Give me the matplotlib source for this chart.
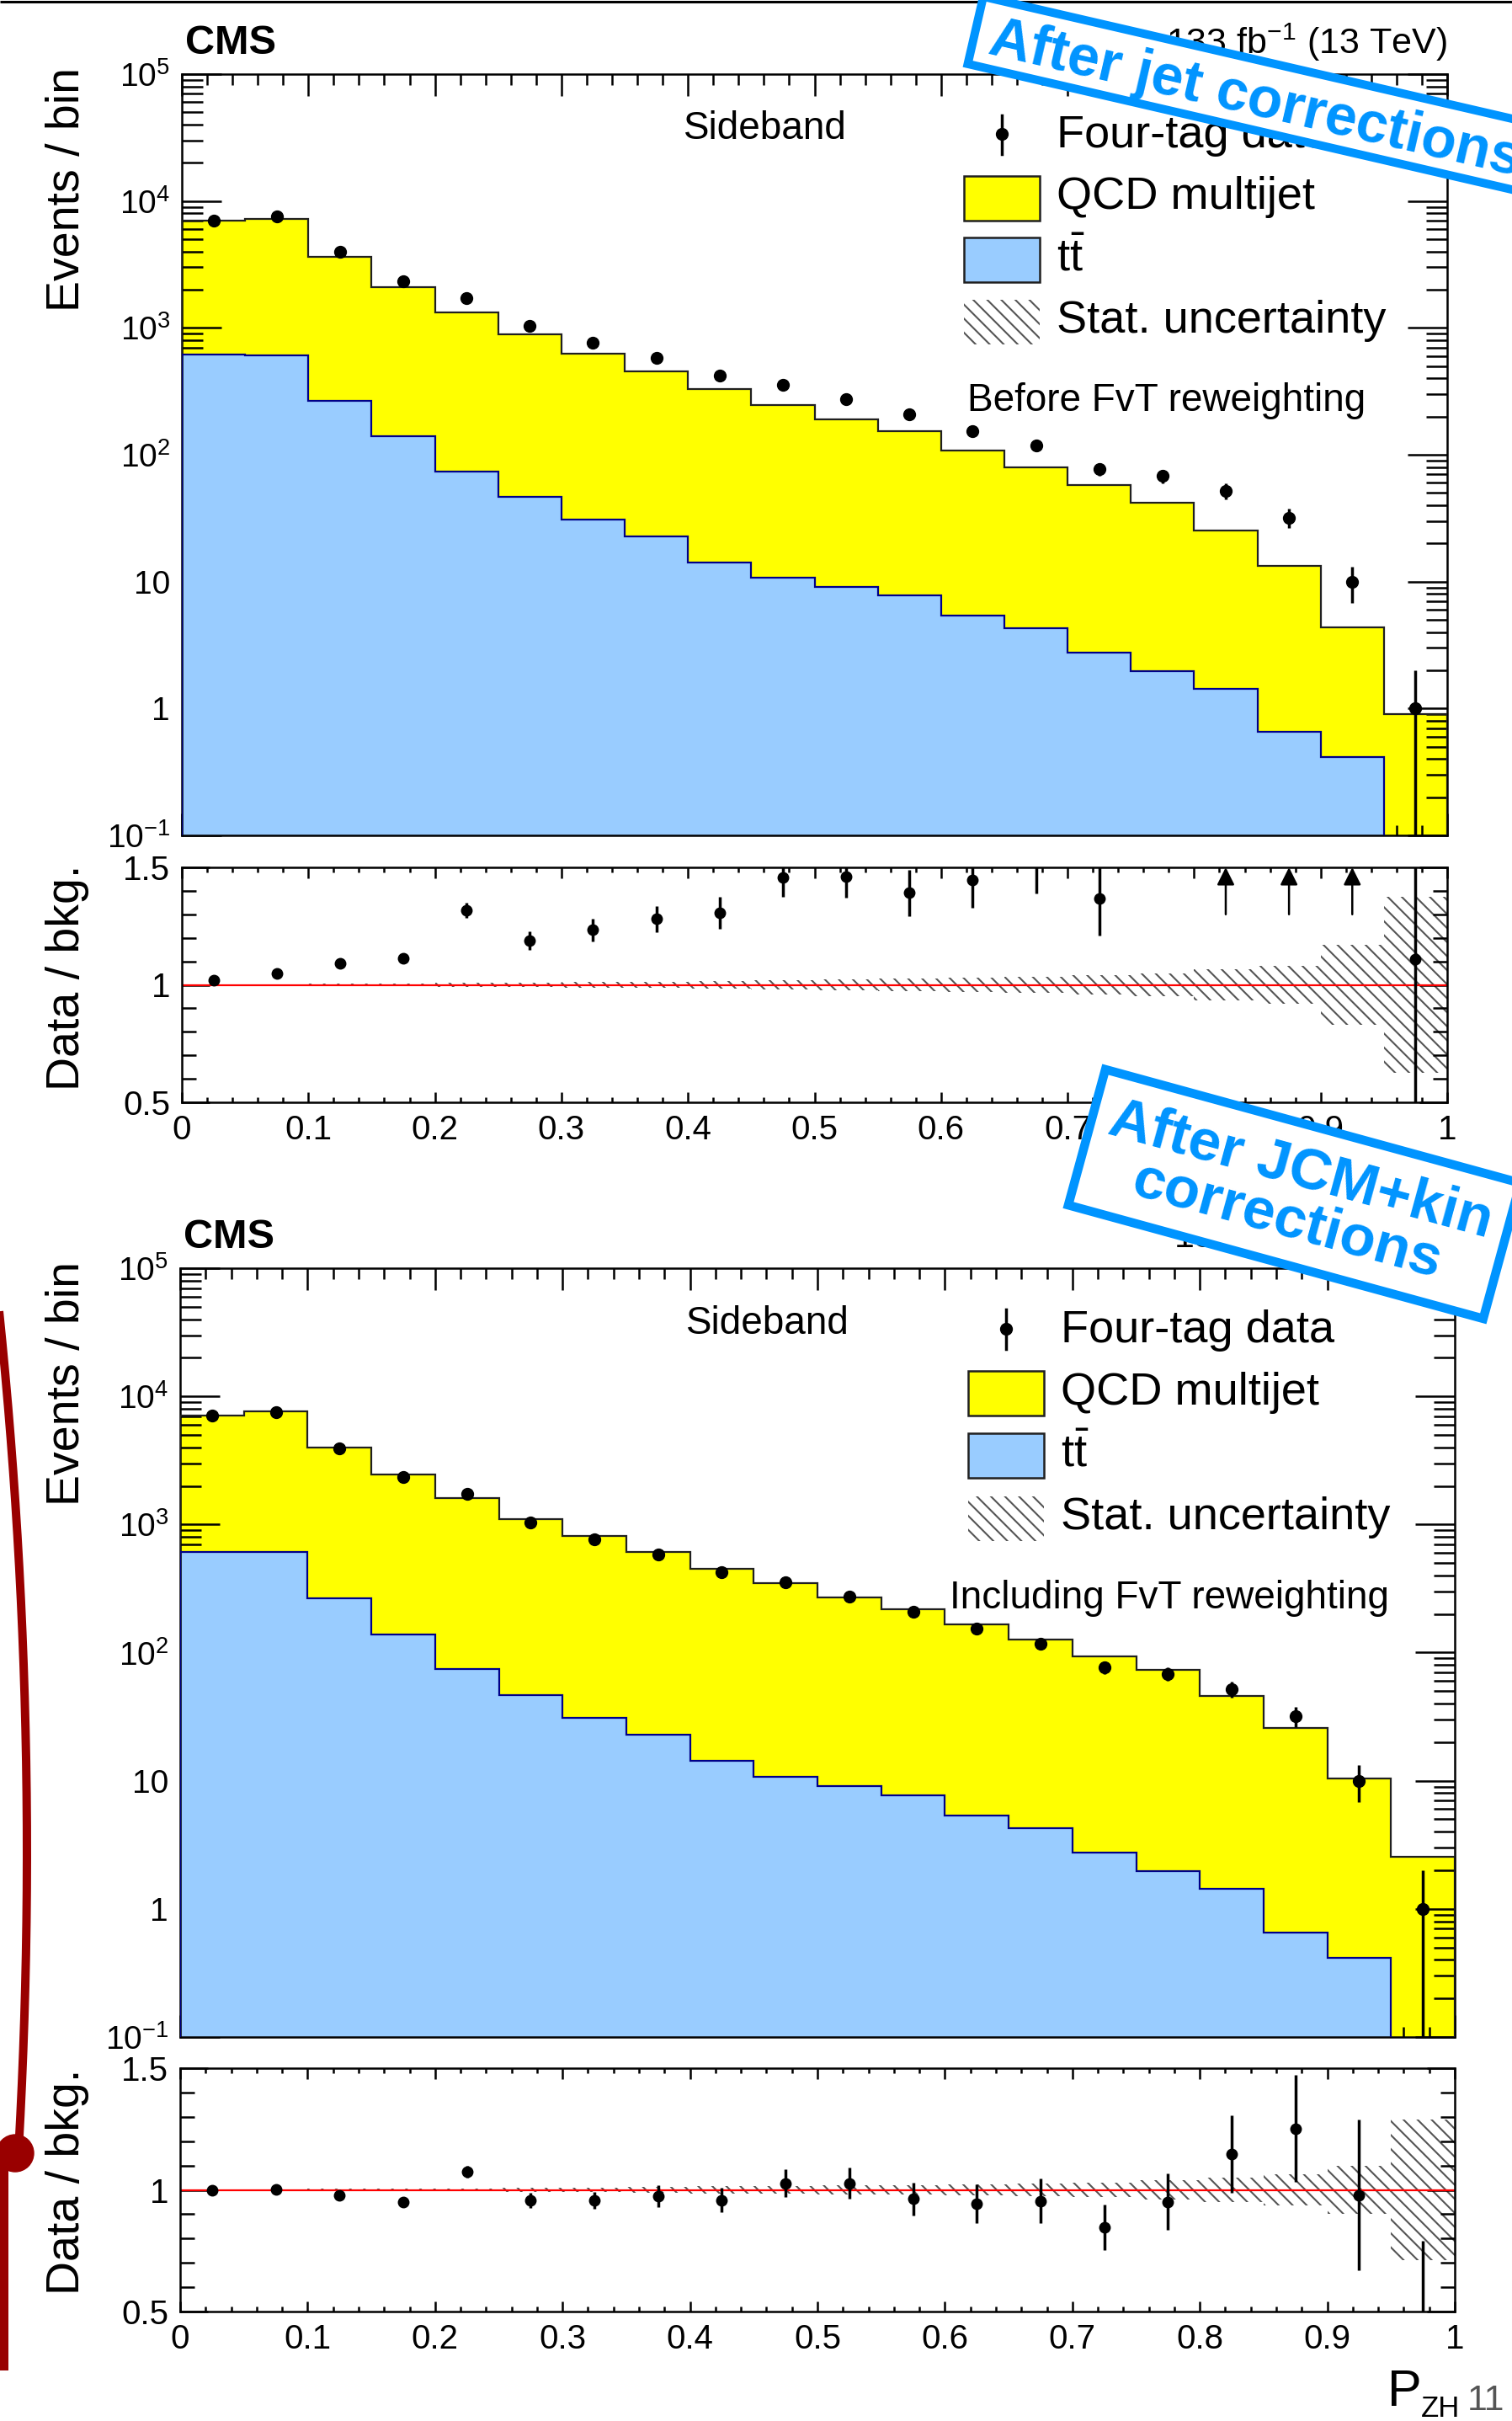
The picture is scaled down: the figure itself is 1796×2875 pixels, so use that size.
import numpy as np
import matplotlib
matplotlib.use("Agg")
import matplotlib.pyplot as plt
from matplotlib.patches import Polygon, Rectangle, Circle
from matplotlib.ticker import (FixedLocator, FixedFormatter, NullFormatter,
                               LogLocator, MultipleLocator)

# ---------------- data ----------------
bin_edges = [0.00, 0.05, 0.10, 0.15, 0.20, 0.25, 0.30, 0.35, 0.40, 0.45, 0.50,
             0.55, 0.60, 0.65, 0.70, 0.75, 0.80, 0.85, 0.90, 0.95, 1.00]

data_fourtag = [7050, 7500, 3950, 2330, 1720, 1040, 763, 582, 423, 353,
                274, 208, 154, 118, 77, 68, 52, 32, 10, 1]
data_fourtag_err = [84, 87, 63, 48, 41, 32, 28, 24, 21, 19,
                    17, 14, 12, 11, 8.8, 8.2, 7.2, 5.7, 3.2, 1.0]

ttbar = [612, 607, 264, 139, 74, 46.7, 30.8, 22.7, 14.2, 10.8,
         9.1, 7.75, 5.37, 4.28, 2.76, 1.96, 1.43, 0.653, 0.416, 0]

qcd_before = [6370, 6600, 3360, 1960, 1250, 848, 593, 434, 313, 235,
              181, 146, 103, 75.3, 54.7, 39.6, 24.0, 12.7, 3.94, 0.91]
qcd_after = [6430, 6980, 3740, 2330, 1540, 1053, 786, 586, 438, 337,
             262, 210, 160, 122, 90.2, 71.3, 44.5, 25.2, 10.0, 2.53]

ratio_before = [1.020, 1.050, 1.091, 1.112, 1.318, 1.189, 1.233, 1.280, 1.308, 1.456,
                1.460, 1.391, 1.446, 1.52, 1.369, 1.70, 1.95, 2.40, 2.30, 1.109]
ratio_before_err = [0.012, 0.012, 0.017, 0.022, 0.033, 0.040, 0.047, 0.055, 0.068, 0.080,
                    0.090, 0.098, 0.118, 0.130, 0.160, 0.200, 0.280, 0.420, 0.730, 1.100]
ratio_before_arrow = [False, False, False, False, False, False, False, False, False, False,
                      False, False, False, False, False, False, True, True, True, False]
stat_before = [0.003, 0.003, 0.004, 0.005, 0.008, 0.010, 0.012, 0.014, 0.016, 0.019,
               0.022, 0.026, 0.030, 0.035, 0.042, 0.050, 0.065, 0.080, 0.170, 0.375]

ratio_after = [0.998, 1.001, 0.976, 0.949, 1.075, 0.957, 0.958, 0.974, 0.957, 1.027,
               1.027, 0.963, 0.943, 0.955, 0.846, 0.951, 1.147, 1.252, 0.978, 0.395]
ratio_after_err = [0.012, 0.012, 0.016, 0.020, 0.025, 0.030, 0.035, 0.045, 0.050, 0.058,
                   0.065, 0.068, 0.078, 0.090, 0.095, 0.115, 0.160, 0.220, 0.310, 0.395]
stat_after = [0.003, 0.003, 0.004, 0.005, 0.006, 0.008, 0.010, 0.012, 0.014, 0.016,
              0.018, 0.020, 0.024, 0.027, 0.030, 0.040, 0.050, 0.065, 0.100, 0.290]

x_tick_values = [0.0, 0.1, 0.2, 0.3, 0.4, 0.5, 0.6, 0.7, 0.8, 0.9, 1.0]
x_tick_labels = ["0", "0.1", "0.2", "0.3", "0.4", "0.5", "0.6", "0.7", "0.8", "0.9", "1"]
main_y_ticks = [0.1, 1, 10, 100, 1e3, 1e4, 1e5]
main_y_labels = [r"$10^{-1}$", "1", "10", r"$10^{2}$", r"$10^{3}$", r"$10^{4}$", r"$10^{5}$"]
ratio_y_ticks = [0.5, 1.0, 1.5]
ratio_y_labels = ["0.5", "1", "1.5"]

legend_labels = ["Four-tag data", "QCD multijet", r"$\mathrm{t\bar{t}}$", "Stat. uncertainty"]

# ---------------- style ----------------
plt.rcParams['font.family'] = ['Liberation Sans', 'DejaVu Sans']
plt.rcParams['mathtext.fontset'] = 'custom'
plt.rcParams['mathtext.rm'] = 'Liberation Sans'
plt.rcParams['mathtext.it'] = 'Liberation Sans:italic'
plt.rcParams['mathtext.bf'] = 'Liberation Sans:bold'
plt.rcParams['hatch.linewidth'] = 1.5
plt.rcParams['hatch.color'] = '#555555'

YELLOW = '#FFFF00'
BLUE = '#99CCFF'
NAVY = '#000088'
HATCH = '#555555'
ANN = '#0094FF'
ARC = '#990000'

W, H = 1796, 2875
fig = plt.figure(figsize=(W / 100, H / 100), dpi=100)


def px_axes(x0, y0, x1, y1, **kw):
    return fig.add_axes([x0 / W, 1 - y1 / H, (x1 - x0) / W, (y1 - y0) / H], **kw)


edges = np.array(bin_edges)
centers = 0.5 * (edges[:-1] + edges[1:])


def style_main(ax):
    ax.set_xlim(0, 1)
    ax.set_yscale('log')
    ax.set_ylim(0.1, 1e5)
    ax.yaxis.set_major_locator(FixedLocator(main_y_ticks))
    ax.yaxis.set_major_formatter(FixedFormatter(main_y_labels))
    ax.yaxis.set_minor_locator(LogLocator(base=10, subs=np.arange(2, 10), numticks=30))
    ax.yaxis.set_minor_formatter(NullFormatter())
    ax.xaxis.set_major_locator(FixedLocator(x_tick_values))
    ax.xaxis.set_minor_locator(MultipleLocator(0.02))
    ax.tick_params(which='both', direction='in', top=True, right=True, width=1.8,
                   labelbottom=False)
    ax.tick_params(axis='y', which='major', length=34, labelsize=28, pad=10)
    ax.tick_params(axis='y', which='minor', length=18)
    ax.tick_params(axis='x', which='major', length=19)
    ax.tick_params(axis='x', which='minor', length=9)
    for s in ax.spines.values():
        s.set_linewidth(1.8)


def style_ratio(ax):
    ax.set_xlim(0, 1)
    ax.set_ylim(0.5, 1.5)
    ax.yaxis.set_major_locator(FixedLocator(ratio_y_ticks))
    ax.yaxis.set_major_formatter(FixedFormatter(ratio_y_labels))
    ax.yaxis.set_minor_locator(MultipleLocator(0.1))
    ax.xaxis.set_major_locator(FixedLocator(x_tick_values))
    ax.xaxis.set_major_formatter(FixedFormatter(x_tick_labels))
    ax.xaxis.set_minor_locator(MultipleLocator(0.02))
    ax.tick_params(which='both', direction='in', top=True, right=True, width=1.8)
    ax.tick_params(axis='y', which='major', length=24, labelsize=29, pad=10)
    ax.tick_params(axis='y', which='minor', length=12)
    ax.tick_params(axis='x', which='major', length=9, labelsize=29, pad=10)
    ax.tick_params(axis='x', which='minor', length=4.5)
    for s in ax.spines.values():
        s.set_linewidth(1.8)


def draw_main(ax, qcd, note_text, note_x):
    tt = np.array(ttbar, dtype=float)
    total = np.array(qcd, dtype=float) + tt
    tt_c = np.clip(tt, 1e-3, None)
    ax.stairs(total, edges, baseline=1e-3, fill=True, color=YELLOW, lw=0, zorder=1)
    ax.stairs(tt_c, edges, baseline=1e-3, fill=True, color=BLUE, lw=0, zorder=2)
    ax.stairs(total, edges, baseline=1e-3, fill=False, color='#202020', lw=1.6, zorder=3)
    ax.stairs(tt_c, edges, baseline=1e-3, fill=False, color=NAVY, lw=1.6, zorder=3)
    d = np.array(data_fourtag, dtype=float)
    e = np.array(data_fourtag_err, dtype=float)
    lo = np.minimum(e, 0.999 * d)
    ax.errorbar(centers, d, yerr=[lo, e], fmt='o', color='k', ms=10, elinewidth=2.5,
                capsize=0, zorder=6)
    style_main(ax)

    # legend (hand placed, ROOT style)
    T = ax.transAxes
    ax.plot([0.648, 0.648], [0.895, 0.946], color='k', lw=2.5, transform=T, clip_on=False, zorder=7)
    ax.plot([0.648], [0.921], 'o', color='k', ms=10, transform=T, clip_on=False, zorder=7)
    ax.add_patch(Rectangle((0.618, 0.808), 0.060, 0.058, transform=T, fc=YELLOW,
                           ec='#202020', lw=1.8, zorder=7))
    ax.add_patch(Rectangle((0.618, 0.727), 0.060, 0.058, transform=T, fc=BLUE,
                           ec='#202020', lw=1.8, zorder=7))
    ax.add_patch(Rectangle((0.618, 0.645), 0.060, 0.058, transform=T, fc='none',
                           ec=HATCH, lw=0, hatch='\\\\', zorder=7))
    ys = [0.904, 0.823, 0.742, 0.660]
    for lab, y in zip(legend_labels, ys):
        ax.text(0.691, y, lab, transform=T, fontsize=39, ha='left', va='baseline', zorder=8)
    ax.text(0.461, 0.915, "Sideband", transform=T, fontsize=33, ha='center',
            va='baseline', zorder=8)
    ax.text(note_x, 0.5575, note_text, transform=T, fontsize=33, ha='left',
            va='baseline', zorder=8)


def draw_ratio(ax, ratio, err, stat, arrows=None):
    st = np.array(stat)
    ax.stairs(1 + st, edges, baseline=1 - st, fill=True, facecolor='none',
              edgecolor=HATCH, hatch='\\\\', lw=0, zorder=1)
    ax.axhline(1.0, color='red', lw=1.6, zorder=2)
    ax.errorbar(centers, ratio, yerr=err, fmt='o', color='k', ms=9, elinewidth=2.5,
                capsize=0, zorder=5)
    if arrows is not None:
        for c, a in zip(centers, arrows):
            if a:
                ax.annotate('', xy=(c, 1.5), xytext=(c, 1.3),
                            arrowprops=dict(arrowstyle='-|>,head_length=0.9,head_width=0.45',
                                            color='k', lw=1.8, mutation_scale=14,
                                            shrinkA=0, shrinkB=0), zorder=6)
    style_ratio(ax)


top_main = px_axes(216, 88, 1719, 992)
top_ratio = px_axes(216, 1030, 1719, 1309)
bot_main = px_axes(214, 1506, 1728, 2419)
bot_ratio = px_axes(214, 2456, 1728, 2745)

draw_main(top_main, qcd_before, "Before FvT reweighting", 0.621)
draw_ratio(top_ratio, ratio_before, ratio_before_err, stat_before, ratio_before_arrow)
draw_main(bot_main, qcd_after, "Including FvT reweighting", 0.604)
draw_ratio(bot_ratio, ratio_after, ratio_after_err, stat_after)

# ---------------- overlay in pixel coordinates ----------------
ov = fig.add_axes([0, 0, 1, 1], zorder=20)
ov.set_xlim(0, W)
ov.set_ylim(H, 0)
ov.set_axis_off()
ov.patch.set_alpha(0)

# top rule of the slide
ov.plot([0, W], [1.5, 1.5], color='k', lw=2.2, solid_capstyle='butt', zorder=1)

# CMS / lumi headers
for (xl, xr, yb) in [(220, 1719, 64), (218, 1728, 1482)]:
    ov.text(xl, yb, "CMS", fontsize=35, fontweight='bold', ha='left', va='baseline', zorder=1)
    ov.text(xr, yb, r"133 fb$^{-1}$ (13 TeV)", fontsize=31, ha='right', va='baseline', zorder=1)

# y-axis titles
for (yt, lab) in [(80, "Events / bin"), (1027, "Data / bkg."),
                  (1498, "Events / bin"), (2457, "Data / bkg.")]:
    ov.text(80, yt, lab, fontsize=40, rotation=90, ha='center', va='top', zorder=1)

# x-axis titles
for (xp, yp) in [(1641, 1405), (1648, 2857)]:
    ov.text(xp, yp, "P", fontsize=44, ha='left', va='baseline', zorder=1)
    ov.text(xp + 40, yp + 13, "ZH", fontsize=25, ha='left', va='baseline', zorder=1)
ov.text(1743, 2862, "11", fontsize=31, color='#555555', ha='left', va='baseline', zorder=1)


def rot_box(p0, length, height, ang_deg, lw, z):
    a = np.deg2rad(ang_deg)
    u = np.array([np.cos(a), np.sin(a)])
    n = np.array([-np.sin(a), np.cos(a)])
    p0 = np.array(p0, dtype=float)
    pts = [p0, p0 + length * u, p0 + length * u + height * n, p0 + height * n]
    ov.add_patch(Polygon(pts, closed=True, fc='white', ec=ANN, lw=lw,
                         joinstyle='miter', zorder=z))


# annotation 1
rot_box((1168, -4), 800, 82, 13.0, 7.2, 5)
ov.text(1172, 63, "After jet corrections", fontsize=49, fontweight='bold', color=ANN,
        rotation=-13.0, rotation_mode='anchor', ha='left', va='baseline', zorder=6)

# annotation 2
rot_box((1313, 1270), 511, 167, 15.3, 7.6, 5)
ov.text(1537, 1420, "After JCM+kin\ncorrections", fontsize=50, fontweight='bold', color=ANN,
        rotation=-15.3, rotation_mode='anchor', ha='center', va='center',
        multialignment='center', linespacing=0.97, zorder=6)

# dark red arc with node on the left
xc, yc, R = -6245.0, 2200.0, 6277.0
yy = np.linspace(1500, 2540, 300)
xx = xc + np.sqrt(R ** 2 - (yy - yc) ** 2)
ov.plot(xx, yy, color=ARC, lw=7.2, solid_capstyle='butt', zorder=3)
ov.plot([5, 5], [2555, 2815], color=ARC, lw=7.2, solid_capstyle='butt', zorder=3)
ov.add_patch(Circle((18, 2557), 22, color=ARC, zorder=4))

fig.savefig("out.png", dpi=100)
